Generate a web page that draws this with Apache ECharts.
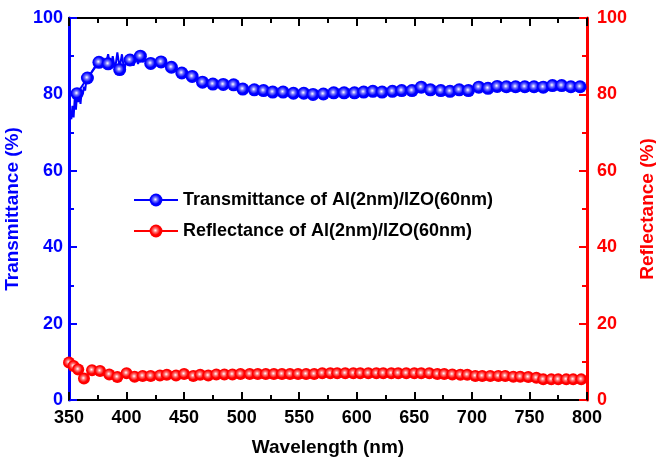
<!DOCTYPE html>
<html>
<head>
<meta charset="utf-8">
<script src="https://cdn.jsdelivr.net/npm/echarts@6/dist/echarts.min.js"></script>
<style>
  html, body { margin: 0; padding: 0; background: #fff; }
  #chart { width: 656px; height: 468px; }
</style>
</head>
<body>
<div id="chart"></div>
<script>
// Transmittance markers (nm, %)
const tWave = [357, 366, 376, 384, 394, 403, 412, 421, 430, 439,
               448, 457, 466, 475, 484, 493, 501, 511, 519, 527,
               536, 545, 554, 562, 571, 580, 589, 598, 606, 614,
               622, 631, 639, 648, 656, 664, 673, 681, 689, 697,
               706, 714, 722, 730, 738, 746, 754, 762, 770, 778,
               786, 794];
const tVal = [80.2, 84.3, 88.4, 88.0, 86.5, 89.0, 90.0, 88.1, 88.5, 87.1,
              85.6, 84.7, 83.2, 82.7, 82.6, 82.5, 81.4, 81.2, 81.0, 80.6,
              80.6, 80.3, 80.3, 80.0, 80.1, 80.4, 80.4, 80.4, 80.6, 80.8,
              80.6, 80.8, 81.0, 81.0, 81.9, 81.2, 81.0, 80.8, 81.2, 81.0,
              81.9, 81.6, 82.1, 82.0, 82.0, 82.0, 82.0, 81.9, 82.3, 82.3,
              82.0, 82.0];

// noisy start of the transmittance curve
const nWave = [350, 351, 352, 353, 354, 355, 356, 357, 358, 359,
               360, 361, 362, 363, 364, 365, 366, 367, 368, 369,
               370, 371, 372, 373, 374, 375, 376, 377, 378, 380,
               382, 384, 386, 388, 390, 392, 394, 396, 398, 400,
               402, 404, 406, 408, 410, 412, 414, 416, 418, 420,
               425, 430];
const nVal = [72.0, 75.0, 73.5, 77.0, 74.0, 79.0, 76.0, 80.0, 78.0, 80.5,
              77.5, 81.0, 80.0, 82.0, 81.0, 83.5, 84.0, 83.0, 85.0, 84.5,
              86.0, 85.5, 87.0, 86.5, 88.0, 88.5, 87.5, 89.0, 87.0, 89.5,
              88.0, 90.5, 87.0, 90.0, 86.5, 91.0, 87.0, 90.5, 86.0, 89.5,
              88.0, 90.5, 87.5, 89.5, 88.0, 90.0, 88.5, 89.0, 87.5, 88.5,
              88.2, 88.5];

// Reflectance markers (nm, %)
const rWave = [350, 354, 358, 363, 370, 377, 385, 392, 400, 407,
               414, 421, 429, 435, 443, 450, 458, 464, 471, 478,
               485, 492, 499, 507, 514, 521, 528, 535, 542, 549,
               556, 563, 570, 577, 583, 590, 597, 603, 610, 617,
               623, 630, 636, 643, 650, 656, 663, 670, 676, 683,
               690, 696, 703, 709, 716, 723, 729, 736, 742, 749,
               756, 762, 769, 775, 782, 788, 795];
const rVal = [9.8, 8.9, 8.0, 5.6, 7.8, 7.6, 6.7, 6.0, 7.0, 6.1,
              6.3, 6.3, 6.4, 6.6, 6.4, 6.8, 6.3, 6.6, 6.4, 6.7,
              6.7, 6.7, 6.8, 6.8, 6.8, 6.8, 6.8, 6.8, 6.8, 6.8,
              6.8, 6.8, 7.0, 7.0, 7.0, 7.0, 7.0, 7.0, 7.0, 7.0,
              7.0, 7.0, 7.0, 7.0, 7.0, 7.0, 7.0, 6.8, 6.8, 6.7,
              6.6, 6.6, 6.3, 6.3, 6.3, 6.3, 6.3, 6.1, 6.1, 6.0,
              5.8, 5.4, 5.4, 5.4, 5.4, 5.4, 5.4];

const xTicks = [350, 400, 450, 500, 550, 600, 650, 700, 750, 800];

const FONT = '"Liberation Sans", Arial, sans-serif';
const tName = 'Transmittance of Al(2nm)/IZO(60nm)';
const rName = 'Reflectance of Al(2nm)/IZO(60nm)';

function pairs(xs, ys) {
  return xs.map((x, i) => [x, ys[i]]);
}

// shiny ball look of the markers
function ball(c1, c2) {
  return {
    type: 'radial', x: 0.45, y: 0.45, r: 0.55,
    colorStops: [
      { offset: 0, color: '#ffffff' },
      { offset: 0.3, color: c1 },
      { offset: 0.65, color: c2 },
      { offset: 1, color: c2 }
    ]
  };
}

function xAxisCfg(pos, labels) {
  return {
    type: 'value', position: pos, min: 350, max: 800, interval: 50,
    name: labels ? 'Wavelength (nm)' : '',
    nameLocation: 'middle', nameGap: 38,
    nameTextStyle: { fontFamily: FONT, fontWeight: 'bold', fontSize: 19, color: '#000' },
    axisLine: { show: true, onZero: false, lineStyle: { color: '#000', width: 2 } },
    axisTick: { show: true, inside: true, length: 8, lineStyle: { color: '#000', width: 2 } },
    minorTick: { show: true, splitNumber: 2, length: 5, lineStyle: { color: '#000', width: 2 } },
    axisLabel: {
      show: labels, margin: 9, fontFamily: FONT, fontWeight: 'bold', fontSize: 18, color: '#000',
      formatter: v => (xTicks.indexOf(v) >= 0 ? String(v) : '')
    },
    splitLine: { show: false }
  };
}

function yAxisCfg(pos, color, name, gap, margin) {
  return {
    type: 'value', position: pos, min: 0, max: 100, interval: 20,
    name: name, nameLocation: 'middle', nameGap: gap, nameRotate: 90,
    nameTextStyle: { fontFamily: FONT, fontWeight: 'bold', fontSize: 19, color: color },
    axisLine: { show: true, lineStyle: { color: color, width: 3 } },
    axisTick: { show: true, inside: true, length: 8, lineStyle: { color: color, width: 2 } },
    minorTick: { show: true, splitNumber: 2, length: 5, lineStyle: { color: color, width: 2 } },
    axisLabel: { margin: margin, fontFamily: FONT, fontWeight: 'bold', fontSize: 18, color: color },
    splitLine: { show: false }
  };
}

const chart = echarts.init(document.getElementById('chart'), null, { renderer: 'canvas' });

chart.setOption({
  animation: false,
  backgroundColor: '#fff',
  grid: { left: 69, right: 69, top: 18, bottom: 68, containLabel: false, outerBoundsMode: 'none' },
  legend: {
    data: [tName, rName],
    orient: 'vertical', left: 128, top: 186,
    itemWidth: 44, itemHeight: 16, itemGap: 13,
    textStyle: { fontFamily: FONT, fontWeight: 'bold', fontSize: 18, color: '#000' }
  },
  xAxis: [xAxisCfg('bottom', true), xAxisCfg('top', false)],
  yAxis: [
    yAxisCfg('left', '#0000ff', 'Transmittance (%)', 37, 6),
    yAxisCfg('right', '#ff0000', 'Reflectance (%)', 49, 10)
  ],
  series: [
    {
      name: 'noise', type: 'line', data: pairs(nWave, nVal),
      showSymbol: false, z: 2,
      lineStyle: { color: '#0000ff', width: 2 }
    },
    {
      name: tName, type: 'line', data: pairs(tWave, tVal),
      symbol: 'circle', symbolSize: 13, z: 3,
      lineStyle: { color: '#0000ff', width: 2 },
      itemStyle: { color: ball('#7070ff', '#0000ff') }
    },
    {
      name: rName, type: 'line', yAxisIndex: 1, data: pairs(rWave, rVal),
      symbol: 'circle', symbolSize: 12, z: 3,
      lineStyle: { color: '#ff0000', width: 2 },
      itemStyle: { color: ball('#ff7070', '#ff0000') }
    }
  ]
});
</script>
</body>
</html>
